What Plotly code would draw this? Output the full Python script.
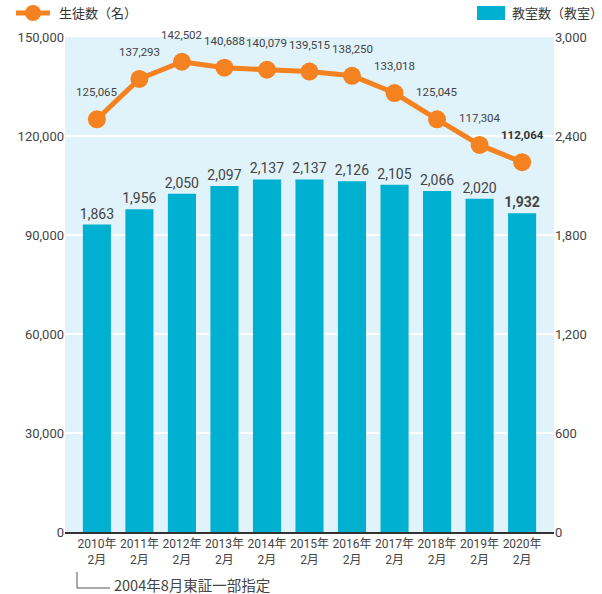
import plotly.graph_objects as go

years = ["2010年<br>2月", "2011年<br>2月", "2012年<br>2月", "2013年<br>2月", "2014年<br>2月",
         "2015年<br>2月", "2016年<br>2月", "2017年<br>2月", "2018年<br>2月", "2019年<br>2月", "2020年<br>2月"]
students = [125065, 137293, 142502, 140688, 140079, 139515, 138250, 133018, 125045, 117304, 112064]
classrooms = [1863, 1956, 2050, 2097, 2137, 2137, 2126, 2105, 2066, 2020, 1932]
left_ticks = [0, 30000, 60000, 90000, 120000, 150000]
right_ticks = [0, 600, 1200, 1800, 2400, 3000]

BLUE = "#00b0d0"
ORANGE = "#f58220"
BG = "#e0f2fa"
TXT = "#444444"
FONT = "Roboto, Noto Sans CJK JP, sans-serif"

xs = list(range(len(years)))
n = len(years)

fig = go.Figure()
fig.add_trace(go.Bar(
    x=xs, y=classrooms, yaxis="y2", marker=dict(color=BLUE, line=dict(width=0)),
    width=0.66,
    text=[f"<b>{v:,}</b>" if i == n - 1 else f"{v:,}" for i, v in enumerate(classrooms)],
    textposition="outside", cliponaxis=False, constraintext="none",
    textfont=dict(size=14, color=TXT, family=FONT), showlegend=False,
))
fig.add_trace(go.Scatter(
    x=xs, y=students, mode="lines+markers",
    line=dict(color=ORANGE, width=5), marker=dict(color=ORANGE, size=18),
    showlegend=False,
))
for i, v in enumerate(students):
    fig.add_annotation(
        x=xs[i], y=v, xref="x", yref="y", yshift=27, showarrow=False,
        text=f"<b>{v:,}</b>" if i == n - 1 else f"{v:,}",
        font=dict(size=11.5, color=TXT if i < n - 1 else "#333333", family=FONT),
    )

W, H = 489, 495
def px(x):
    return (x - 65) / W
def py(y):
    return (532 - y) / H

shapes = []
shapes.append(dict(type="line", xref="paper", yref="paper", x0=px(16), x1=px(50), y0=py(13), y1=py(13),
                   line=dict(color=ORANGE, width=5)))
shapes.append(dict(type="circle", xref="paper", yref="paper", x0=px(25), x1=px(41), y0=py(5), y1=py(21),
                   fillcolor=ORANGE, line=dict(width=0)))
shapes.append(dict(type="rect", xref="paper", yref="paper", x0=px(477), x1=px(505), y0=py(6), y1=py(20),
                   fillcolor=BLUE, line=dict(width=0)))
shapes.append(dict(type="path", xref="paper", yref="paper",
                   path=f"M {px(77)},{py(572)} L {px(77)},{py(588)} L {px(110)},{py(588)}",
                   line=dict(color="#555555", width=1)))

fig.add_annotation(xref="paper", yref="paper", x=px(57), y=py(13), text="生徒数（名）", showarrow=False,
                   xanchor="left", yanchor="middle", font=dict(size=13, color="#333333", family="Noto Sans CJK JP"))
fig.add_annotation(xref="paper", yref="paper", x=px(510), y=py(13), text="教室数（教室）", showarrow=False,
                   xanchor="left", yanchor="middle", font=dict(size=13, color="#333333", family="Noto Sans CJK JP"))
fig.add_annotation(xref="paper", yref="paper", x=px(112), y=py(584), text="2004年8月東証一部指定", showarrow=False,
                   xanchor="left", yanchor="middle", font=dict(size=14.5, color="#444444", family="Noto Sans CJK JP"))

fig.update_layout(
    width=602, height=594,
    margin=dict(l=65, r=48, t=37, b=62),
    paper_bgcolor="white", plot_bgcolor=BG,
    font=dict(family=FONT, color=TXT, size=13),
    shapes=shapes,
    xaxis=dict(tickmode="array", tickvals=xs, ticktext=years, range=[-0.75, n - 0.25],
               tickangle=0, showgrid=False, showline=True, linecolor="#333333", linewidth=1.5, ticks="",
               tickfont=dict(size=12, color=TXT, family=FONT)),
    yaxis=dict(range=[0, 150000], tickvals=left_ticks, ticktext=[f"{v:,}" for v in left_ticks],
               showgrid=True, gridcolor="white", gridwidth=2, zeroline=False,
               tickfont=dict(size=13, color=TXT, family=FONT), ticks=""),
    yaxis2=dict(range=[0, 3000], tickvals=right_ticks, ticktext=[f"{v:,}" for v in right_ticks],
                overlaying="y", side="right", showgrid=False, zeroline=False,
                tickfont=dict(size=13, color=TXT, family=FONT), ticks=""),
)

fig.write_html("out.html")
